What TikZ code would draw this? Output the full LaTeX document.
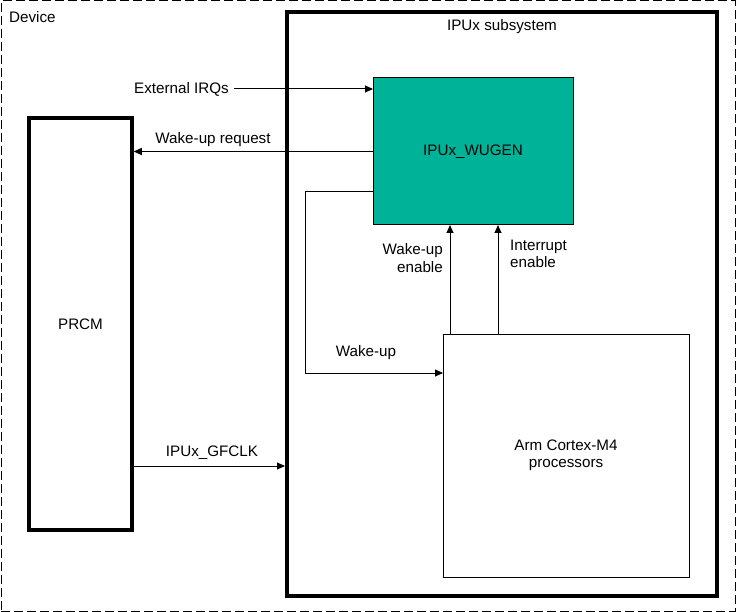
\documentclass[tikz,border=0pt]{standalone}
\usepackage{fontspec}
\setmainfont{Liberation Sans}
\usetikzlibrary{arrows.meta}
\definecolor{wugenfill}{RGB}{0,179,152}
\begin{document}
\begin{tikzpicture}[x=1pt,y=-1pt,
  font=\fontsize{15.2}{17.5}\selectfont,
  box/.style={draw, anchor=north west, inner sep=0pt, outer sep=0pt},
  arr/.style={line width=1pt, -{Triangle[length=8pt,width=7pt]}},
  lbl/.style={inner sep=0pt}]
\useasboundingbox (0,0) rectangle (736,612);
% device frame
\node[box, line width=1pt, dash pattern=on 9pt off 4pt, minimum width=734pt, minimum height=610pt] (device) at (1,1) {};
\node[lbl, anchor=west] (devlbl) at (9,17) {Device};
% IPUx subsystem
\node[box, line width=4pt, minimum width=430pt, minimum height=584pt] (ipu) at (287,12) {};
\node[lbl] (ipulbl) at (502,27) {IPUx subsystem};
% PRCM
\node[box, line width=3.5pt, minimum width=103pt, minimum height=412pt] (prcm) at (29,118) {PRCM};
% WUGEN
\node[box, fill=wugenfill, line width=1pt, minimum width=200pt, minimum height=147pt] (wugen) at (373,78) {IPUx\_WUGEN};
% Arm
\node[box, line width=1pt, minimum width=246pt, minimum height=243pt, align=center] (arm) at (443,334) {Arm Cortex-M4\\processors};
% External IRQs
\node[anchor=east, inner xsep=5pt, inner ysep=0pt] (irq) at (234,89) {External IRQs};
\draw[arr] (irq.east) -- (irq.east -| wugen.west);
% Wake-up request
\draw[arr] (wugen.west) -- ([xshift=1.75pt]wugen.west -| prcm.east);
\node[lbl] (wureq) at (213,140) {Wake-up request};
% Wake-up
\draw[arr] ([yshift=-40pt]wugen.west) -- ++(-68,0) |- ([yshift=-39pt]arm.north west);
\node[lbl] (wulbl) at (366,353) {Wake-up};
% Wake-up enable
\draw[arr] ([xshift=7pt]arm.north west) -- ([xshift=7pt]arm.north west |- wugen.south);
\node[lbl, anchor=east, align=right] (wuen) at (443,258) {Wake-up\\enable};
% Interrupt enable
\draw[arr] ([xshift=55pt]arm.north west) -- ([xshift=55pt]arm.north west |- wugen.south);
\node[lbl, anchor=west, align=left] (inten) at (510,254) {Interrupt\\enable};
% GFCLK
\draw[arr] ([yshift=-142pt]prcm.east) -- ([xshift=-2pt,yshift=-142pt]prcm.east -| ipu.west);
\node[lbl] (gfclk) at (212,453) {IPUx\_GFCLK};
\end{tikzpicture}
\end{document}
